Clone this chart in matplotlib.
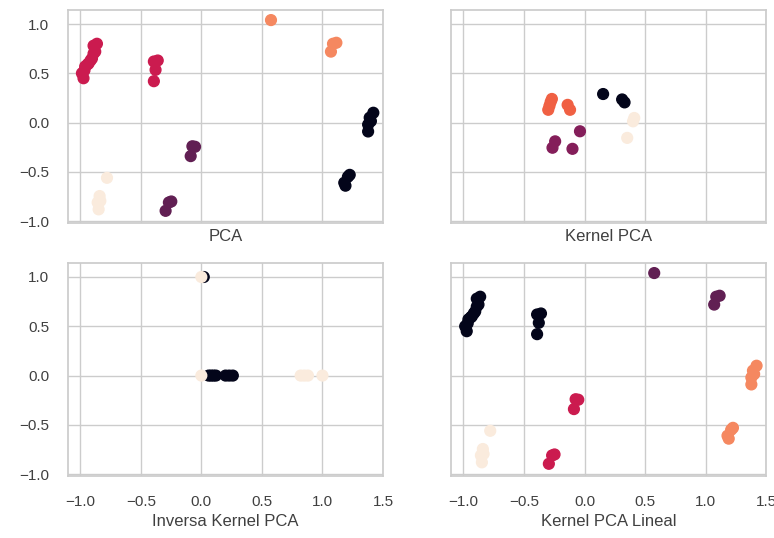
import matplotlib
matplotlib.use('Agg')
import matplotlib.pyplot as plt
import numpy as np
import seaborn as sns

sns.set_theme(style='whitegrid')
plt.rcParams['font.family'] = ['Liberation Sans', 'DejaVu Sans']

# PCA projection (same points reused by the linear kernel PCA)
pca_x = [-0.973, -0.986, -0.965, -0.959, -0.94, -0.931, -0.915, -0.903, -0.89, -0.876, -0.862, -0.89,
         -0.392, -0.36, -0.378, -0.392,
         -0.074, -0.052, -0.088,
         -0.268, -0.248, -0.295,
         -0.779, -0.84, -0.834, -0.856, -0.848,
         0.575, 1.087, 1.115, 1.07,
         1.42, 1.39, 1.40, 1.377, 1.377, 1.225, 1.21, 1.18, 1.19]
pca_y = [0.45, 0.50, 0.53, 0.57, 0.59, 0.60, 0.63, 0.65, 0.70, 0.72, 0.80, 0.78,
         0.62, 0.63, 0.535, 0.42,
         -0.24, -0.245, -0.34,
         -0.81, -0.80, -0.895,
         -0.56, -0.745, -0.795, -0.81, -0.88,
         1.04, 0.80, 0.81, 0.72,
         0.10, 0.05, 0.015, -0.02, -0.09, -0.53, -0.55, -0.61, -0.64]
pca_lab = [2] * 16 + [1] * 6 + [4] * 5 + [3] * 4 + [0] * 9
lin_lab = [0] * 16 + [2] * 6 + [4] * 5 + [1] * 4 + [3] * 9

# Kernel PCA
kpca_x = [-0.30, -0.29, -0.28, -0.27, -0.14, -0.12,
          0.153, 0.31, 0.33,
          0.40, 0.41, 0.352,
          -0.038, -0.243, -0.265, -0.10]
kpca_y = [0.13, 0.17, 0.21, 0.24, 0.18, 0.13,
          0.29, 0.235, 0.205,
          0.013, 0.047, -0.155,
          -0.088, -0.19, -0.255, -0.266]
kpca_lab = [2] * 6 + [0] * 3 + [3] * 3 + [1] * 4

# Inverse kernel PCA
inv_x = [0.02, 0.06, 0.08, 0.10, 0.12, 0.20, 0.23, 0.26,
         0.0, 0.0, 0.82, 0.85, 0.88, 1.0]
inv_y = [1.0, 0, 0, 0, 0, 0, 0, 0,
         1.0, 0, 0, 0, 0, 0]
inv_lab = [0] * 8 + [1] * 6

cmap = sns.color_palette('rocket', as_cmap=True)

fig, axes = plt.subplots(2, 2, sharex=True, sharey=True, figsize=(7.74, 5.38), dpi=100)
fig.subplots_adjust(left=0.088, right=0.99, top=0.981, bottom=0.115, wspace=0.217, hspace=0.188)

panels = [
    (axes[0, 0], pca_x, pca_y, pca_lab, 'PCA'),
    (axes[0, 1], kpca_x, kpca_y, kpca_lab, 'Kernel PCA'),
    (axes[1, 0], inv_x, inv_y, inv_lab, 'Inversa Kernel PCA'),
    (axes[1, 1], pca_x, pca_y, lin_lab, 'Kernel PCA Lineal'),
]
for ax, x, y, lab, name in panels:
    ax.scatter(x, y, c=lab, cmap=cmap, s=60)
    ax.set_xlabel(name, fontsize=12, color='.25')
    ax.tick_params(labelsize=11, length=0, pad=13.5, labelcolor='.25')

axes[0, 0].set_xlim(-1.1, 1.5)
axes[0, 0].set_ylim(-1.02, 1.14)
axes[0, 0].set_xticks(np.arange(-1.0, 1.51, 0.5))
axes[0, 0].set_yticks(np.arange(-1.0, 1.01, 0.5))

fig.savefig('out.png', dpi=100)
